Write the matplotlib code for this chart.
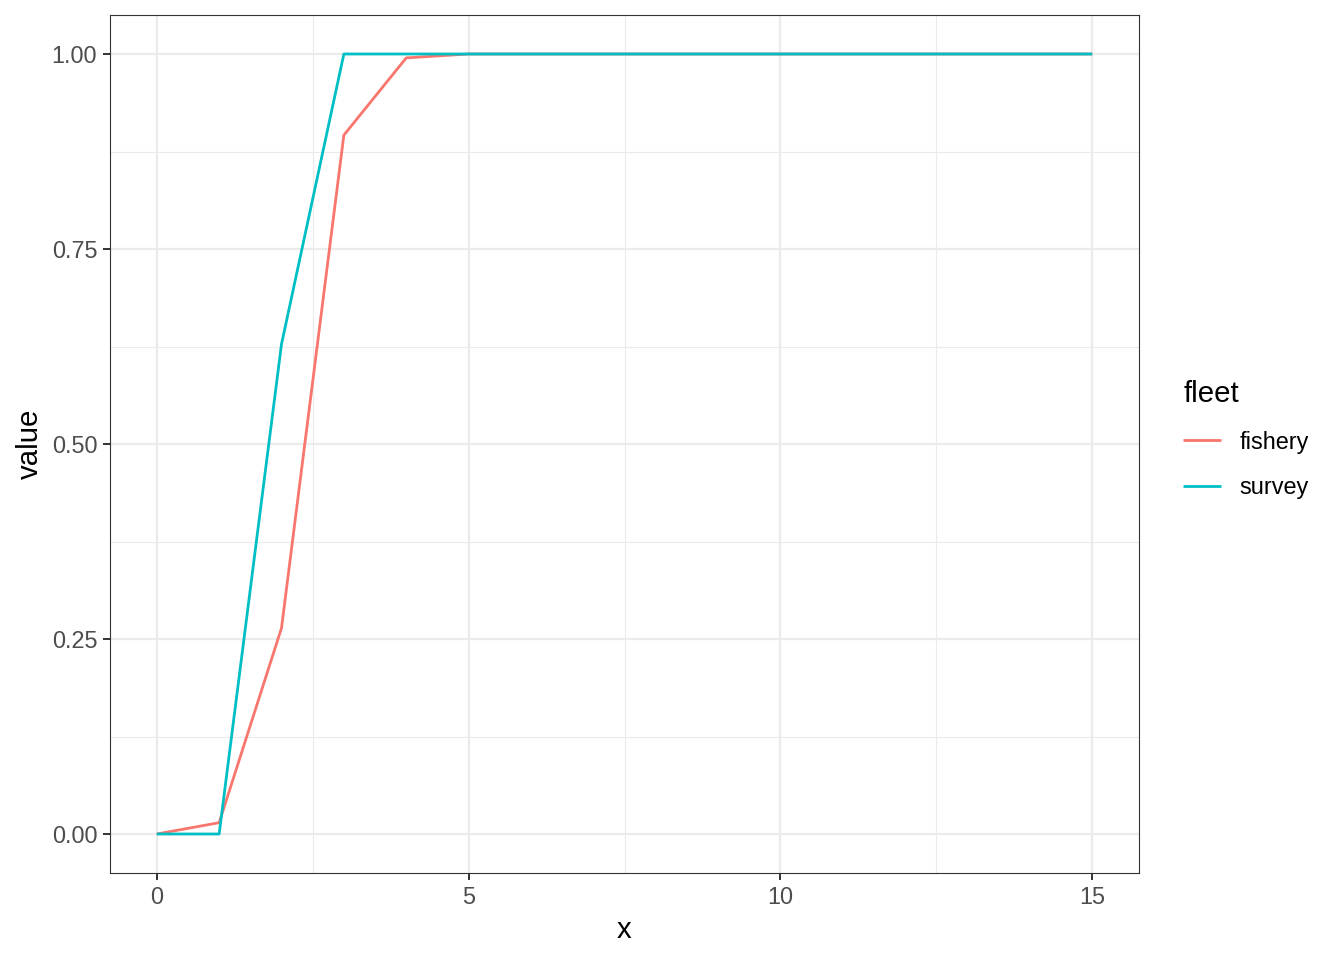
import matplotlib.pyplot as plt
import numpy as np

plt.rcParams['font.family'] = ['Liberation Sans', 'DejaVu Sans']

# selectivity at age
ages = np.arange(0, 16)
fishery = [0.0, 0.0145, 0.264, 0.896, 0.995, 1.0, 1.0, 1.0, 1.0, 1.0, 1.0, 1.0, 1.0, 1.0, 1.0, 1.0]
survey = [0.0, 0.0, 0.628, 1.0, 1.0, 1.0, 1.0, 1.0, 1.0, 1.0, 1.0, 1.0, 1.0, 1.0, 1.0, 1.0]
fleets = ['fishery', 'survey']
colors = ['#F8766D', '#00BFC4']

S = 1.92  # ggplot pt -> matplotlib pt at this size

fig = plt.figure(figsize=(13.44, 9.6), dpi=100)
ax = fig.add_axes([110 / 1344, 1 - 873 / 960, (1139 - 110) / 1344, (873 - 15) / 960])

for name, vals, c in zip(fleets, [fishery, survey], colors):
    ax.plot(ages, vals, color=c, lw=2.0, label=name, solid_capstyle='butt')

ax.set_xlim(-0.75, 15.75)
ax.set_ylim(-0.05, 1.05)
ax.set_xticks([0, 5, 10, 15])
ax.set_yticks([0, 0.25, 0.5, 0.75, 1.0])
ax.set_yticklabels(['0.00', '0.25', '0.50', '0.75', '1.00'])
ax.set_xticks([2.5, 7.5, 12.5], minor=True)
ax.set_yticks([0.125, 0.375, 0.625, 0.875], minor=True)

ax.grid(which='major', color='#EBEBEB', lw=1.6)
ax.grid(which='minor', color='#EBEBEB', lw=0.8)
ax.set_axisbelow(True)
ax.tick_params(which='major', length=5, width=1.4, color='#333333',
               labelcolor='#4D4D4D', labelsize=8.8 * S, pad=2.2 * S)
ax.tick_params(which='minor', length=0)
for sp in ax.spines.values():
    sp.set_color('#333333')
    sp.set_linewidth(0.8)

ax.set_xlabel('x', fontsize=11 * S, labelpad=2.75 * S)
ax.set_ylabel('value', fontsize=11 * S, labelpad=2.75 * S)

leg = ax.legend(title='fleet', loc='center left', bbox_to_anchor=(1.034, 0.505),
                frameon=False, fontsize=8.8 * S, title_fontsize=11 * S,
                handlelength=1.6, handletextpad=0.8, labelspacing=0.97,
                alignment='left', borderaxespad=0)

fig.savefig('out.png', dpi=100)
